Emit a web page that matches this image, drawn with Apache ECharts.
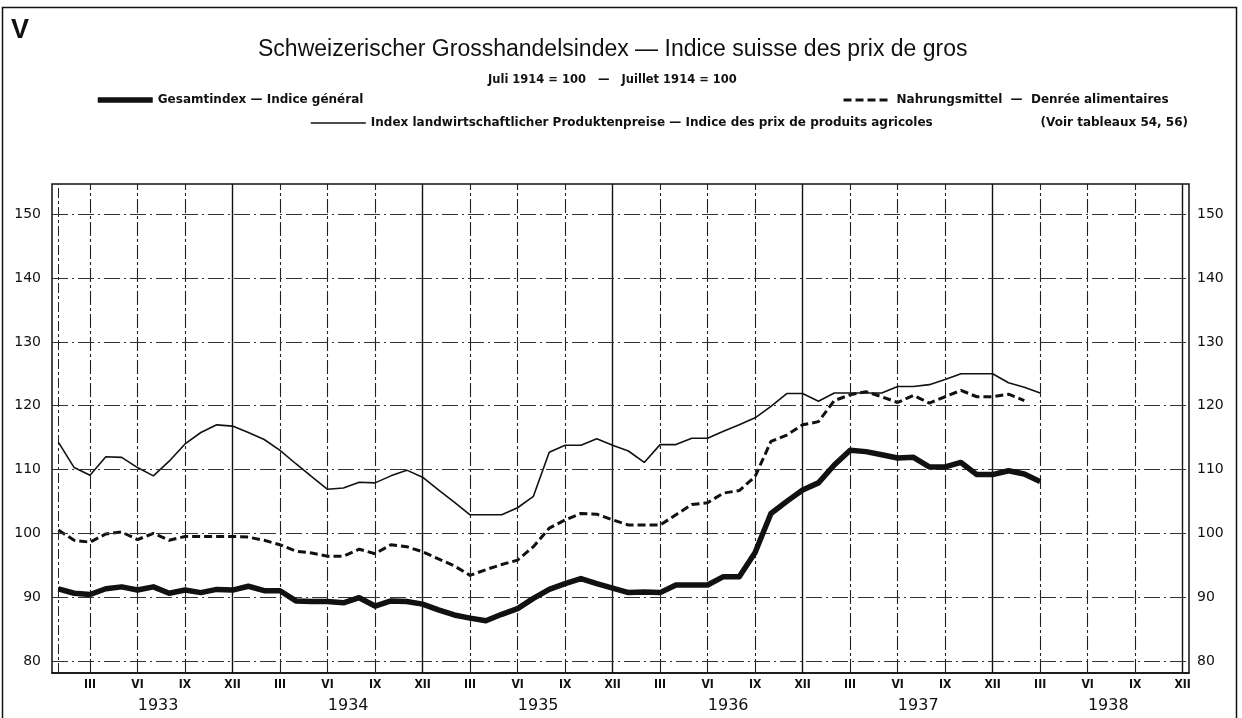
<!DOCTYPE html>
<html>
<head>
<meta charset="utf-8">
<script src="https://cdn.jsdelivr.net/npm/echarts@6/dist/echarts.min.js"></script>
<style>
html,body{margin:0;padding:0;background:#fff;}
#chart{width:1242px;height:718px;}
</style>
</head>
<body>
<div id="chart"></div>
<script>
// Month index 0 = January 1933
const gesamtindex = [91.3,90.6,90.4,91.3,91.6,91.1,91.6,90.6,91.1,90.7,91.2,91.1,
  91.7,91.0,91.0,89.4,89.3,89.3,89.1,89.9,88.6,89.4,89.3,88.9,
  88.0,87.2,86.7,86.3,87.3,88.2,89.8,91.2,92.1,92.9,92.1,91.4,
  90.7,90.8,90.7,91.9,91.9,91.9,93.2,93.2,97.0,103.1,105.0,106.8,
  107.9,110.7,113.0,112.8,112.3,111.8,111.9,110.4,110.4,111.1,109.2,109.2,
  109.8,109.3,108.1];
const nahrungsmittel = [100.5,98.9,98.6,99.9,100.2,99.0,100.0,98.9,99.5,99.5,99.5,99.5,
  99.4,98.9,98.2,97.2,96.9,96.4,96.4,97.5,96.8,98.2,97.9,97.1,
  96.0,94.9,93.4,94.3,95.1,95.8,97.9,100.8,102.1,103.1,103.0,102.1,
  101.3,101.3,101.3,102.9,104.5,104.8,106.3,106.7,108.9,114.4,115.4,117.0,
  117.5,120.8,121.7,122.2,121.4,120.5,121.6,120.4,121.4,122.4,121.4,121.4,
  121.8,120.8];
const agrarpreise = [114.3,110.3,109.1,112.0,111.9,110.3,109.0,111.3,114.0,115.8,117.0,116.8,
  115.8,114.7,113.0,110.9,108.9,106.9,107.1,108.0,107.9,109.0,109.9,108.8,
  106.8,104.9,102.9,102.9,102.9,104.0,105.8,112.7,113.8,113.8,114.8,113.8,
  112.9,111.1,113.9,113.9,114.9,114.9,116.0,117.0,118.1,119.9,121.9,121.9,
  120.7,122.0,122.0,122.0,122.0,123.0,123.0,123.3,124.1,125.0,125.0,125.0,
  123.6,122.9,122.0];
const quarterMonths = [2,5,8,11,14,17,20,23,26,29,32,35,38,41,44,47,50,53,56,59,62,65,68,71];
const quarterLabels = {2:'III',5:'VI',8:'IX',11:'XII'};
const yearLabelPos = [6.3,18.3,30.3,42.3,54.3,66.3];
const years = ['1933','1934','1935','1936','1937','1938'];
const yTicks = [80,90,100,110,120,130,140,150];

const nameG = 'Gesamtindex — Indice général';
const nameN = 'Nahrungsmittel  —  Denrée alimentaires';
const nameA = 'Index landwirtschaftlicher Produktenpreise — Indice des prix de produits agricoles';

const toPairs = arr => arr.map((v,i)=>[i,v]);
const INK = '#111';
const numFont = "'DejaVu Sans', sans-serif";
const txtFont = "'Liberation Sans', Arial, sans-serif";
const wideFont = "'DejaVu Sans', sans-serif";
const narrowFont = "'Liberation Sans Narrow', 'DejaVu Sans Condensed', sans-serif";

const styleG = {color:INK, width:5.5, type:'solid'};
const styleN = {color:INK, width:3, type:[8,4]};
const styleA = {color:INK, width:1.6, type:'solid'};

const vLines = [{xAxis:0, lineStyle:{type:[10,3,3,3], width:1, color:'#222'}}].concat(
  quarterMonths.map(m => ({xAxis:m, lineStyle: (m%12===11)
    ? {type:'solid', width:1.4, color:INK}
    : {type:[14,3,3,3], width:1.1, color:'#222'}})));
const hLines = yTicks.map(v => ({yAxis:v, lineStyle:{type:[16,4,2,4], width:1, color:'#333'}}));

const legendText = {fontFamily:wideFont, fontSize:12, fontWeight:'bold', color:INK};
const chart = echarts.init(document.getElementById('chart'), null, {renderer:'canvas'});
chart.setOption({
  animation:false,
  backgroundColor:'#fff',
  title:[
    {text:'V', left:11, top:17, padding:0, textStyle:{fontFamily:txtFont, fontSize:27, fontWeight:'bold', color:INK}},
    {text:'Schweizerischer Grosshandelsindex — Indice suisse des prix de gros', left:258, top:38, padding:0,
      textStyle:{fontFamily:txtFont, fontSize:23, fontWeight:'normal', color:INK}},
    {text:'Juli 1914 = 100   —   Juillet 1914 = 100', left:488, top:74, padding:0,
      textStyle:{fontFamily:wideFont, fontSize:11.5, fontWeight:'bold', color:INK}},
    {text:'(Voir tableaux 54, 56)', right:54, top:117, padding:0, textStyle:legendText}
  ],
  legend:[
    {data:[nameG], left:95, top:94, padding:0, itemWidth:55, itemHeight:14, selectedMode:false,
      itemStyle:{opacity:0}, lineStyle:styleG, textStyle:legendText},
    {data:[nameA], left:310, top:117, padding:0, itemWidth:55, itemHeight:14, selectedMode:false,
      itemStyle:{opacity:0}, lineStyle:styleA, textStyle:legendText},
    {data:[nameN], left:842, top:94, padding:0, itemWidth:48, itemHeight:14, selectedMode:false,
      itemStyle:{opacity:0}, lineStyle:styleN, textStyle:legendText}
  ],
  graphic:[{type:'rect', silent:true, shape:{x:2.5, y:7.5, width:1234, height:720},
    style:{fill:'none', stroke:INK, lineWidth:1.5}}],
  grid:{left:52, right:53, top:184, bottom:45, show:true, borderColor:INK, borderWidth:1.5, backgroundColor:'transparent'},
  xAxis:[
    {type:'value', min:-0.4, max:71.4, position:'bottom',
      axisLine:{show:true, lineStyle:{color:INK, width:1.5}},
      axisTick:{show:false}, splitLine:{show:false},
      axisLabel:{customValues:quarterMonths, margin:6, color:INK, fontFamily:narrowFont, fontSize:12, fontWeight:'bold',
        formatter: v => quarterLabels[Math.round(v)%12]}},
    {type:'value', min:-0.4, max:71.4, position:'bottom', offset:19,
      axisLine:{show:false}, axisTick:{show:false}, splitLine:{show:false},
      axisLabel:{customValues:yearLabelPos, margin:6, color:INK, fontFamily:numFont, fontSize:16,
        formatter: v => years[Math.floor(v/12)]}}
  ],
  yAxis:[
    {type:'value', min:78.1, max:154.75, position:'left',
      axisLine:{show:false}, axisTick:{show:false}, splitLine:{show:false},
      axisLabel:{customValues:yTicks, margin:11, color:INK, fontFamily:numFont, fontSize:14}},
    {type:'value', min:78.1, max:154.75, position:'right',
      axisLine:{show:false}, axisTick:{show:false}, splitLine:{show:false},
      axisLabel:{customValues:yTicks, margin:8, color:INK, fontFamily:numFont, fontSize:14}}
  ],
  series:[
    {name:'grid', type:'line', data:[], z:1, silent:true,
      markLine:{silent:true, symbol:['none','none'], label:{show:false}, animation:false, data: vLines.concat(hLines)}},
    {name:nameA, type:'line', data:toPairs(agrarpreise), symbol:'none', showSymbol:false, z:3,
      lineStyle:styleA, itemStyle:{color:INK}},
    {name:nameN, type:'line', data:toPairs(nahrungsmittel), symbol:'none', showSymbol:false, z:4,
      lineStyle:styleN, itemStyle:{color:INK}},
    {name:nameG, type:'line', data:toPairs(gesamtindex), symbol:'none', showSymbol:false, z:5,
      lineStyle:Object.assign({join:'round'}, styleG), itemStyle:{color:INK}}
  ]
});
</script>
</body>
</html>
